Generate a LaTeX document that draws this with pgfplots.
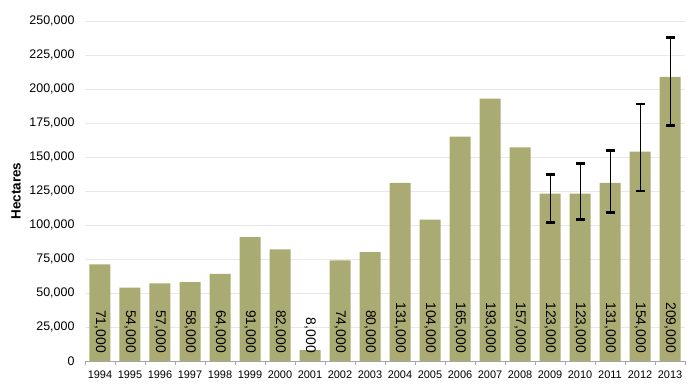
\documentclass[border=0pt]{standalone}
\usepackage{pgfplots}
\pgfplotsset{compat=1.18}
\usepackage{pgfplotstable}
\usepackage{fontspec}
\setmainfont{Liberation Sans}
\definecolor{barcol}{RGB}{170,171,114}
\pgfplotstableread{
x year val lab
0 1994 71000 71,000
1 1995 54000 54,000
2 1996 57000 57,000
3 1997 58000 58,000
4 1998 64000 64,000
5 1999 91000 91,000
6 2000 82000 82,000
7 2001 8000 8,000
8 2002 74000 74,000
9 2003 80000 80,000
10 2004 131000 131,000
11 2005 104000 104,000
12 2006 165000 165,000
13 2007 193000 193,000
14 2008 157000 157,000
15 2009 123000 123,000
16 2010 123000 123,000
17 2011 131000 131,000
18 2012 154000 154,000
19 2013 209000 209,000
}\data
\pgfplotstableread{
x val plus minus
15 123000 14000 21000
16 123000 22000 19000
17 131000 24000 22000
18 154000 35000 29000
19 209000 29000 36000
}\errdata
\begin{document}
\begin{tikzpicture}
\begin{axis}[
  scale only axis, width=600bp, height=340bp,
  at={(0,0)}, anchor=south west,
  xmin=-0.5, xmax=19.5, ymin=0, ymax=250000,
  axis x line*=bottom, axis y line*=left,
  y axis line style={draw=none},
  x axis line style={draw=gray!70, line width=0.6pt},
  xtick={0,...,19},
  xticklabels={1994,1995,1996,1997,1998,1999,2000,2001,2002,2003,2004,2005,2006,2007,2008,2009,2010,2011,2012,2013},
  minor xtick={-0.5,0.5,...,19.5},
  major tick length=0pt,
  minor tick length=4bp,
  tick align=outside,
  minor tick style={draw=gray!70, line width=0.6pt},
  ytick={0,25000,50000,75000,100000,125000,150000,175000,200000,225000,250000},
  yticklabels={0,{25,000},{50,000},{75,000},{100,000},{125,000},{150,000},{175,000},{200,000},{225,000},{250,000}},
  scaled y ticks=false,
  ymajorgrids, major grid style={draw=gray!18, line width=0.8pt},
  xticklabel style={font=\fontsize{11}{13}\selectfont, yshift=-6bp},
  yticklabel style={font=\fontsize{12.5}{14}\selectfont, xshift=-7bp},
  ylabel={\bfseries Hectares},
  ylabel style={at={(axis description cs:-0.115,0.5)}, anchor=center, font=\fontsize{13.5}{15}\selectfont},
]
\addplot[ybar, bar width=21bp, fill=barcol, draw=none] table[x=x,y=val]{\data};
\addplot[draw=none, mark=none, nodes near coords, point meta=explicit symbolic,
  nodes near coords style={text=black, font=\fontsize{14}{16}\selectfont, yshift=8bp, rotate=-90, anchor=east, inner sep=0pt}]
  table[x=x, y expr=0, meta=lab]{\data};
\addplot[draw=none, mark=none,
  error bars/.cd, y dir=both, y explicit,
  error bar style={draw=black, line width=0.9pt},
  error mark options={draw=black, line width=2.8pt, mark size=4.5bp, rotate=90}]
  table[x=x, y=val, y error plus=plus, y error minus=minus]{\errdata};
\end{axis}
\pgfresetboundingbox
\path (-85bp,-30bp) rectangle (615bp,361bp);
\end{tikzpicture}
\end{document}
